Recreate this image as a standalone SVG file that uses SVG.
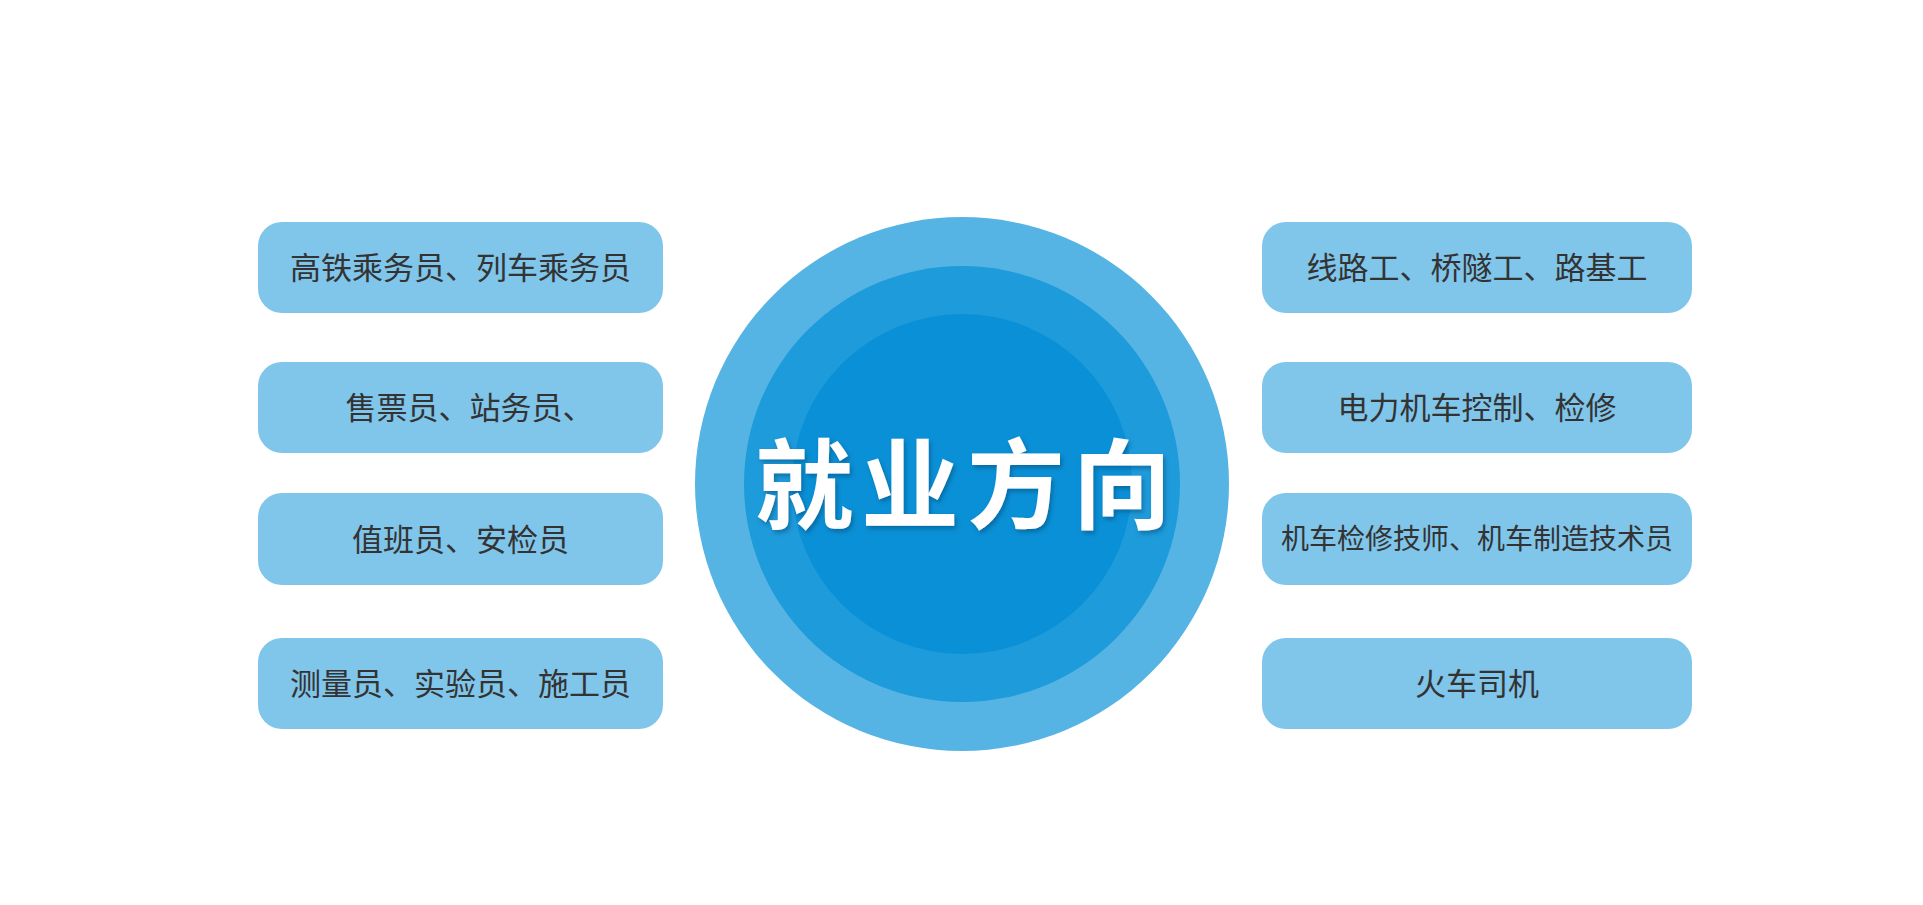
<svg xmlns="http://www.w3.org/2000/svg" width="1923" height="905" viewBox="0 0 1923 905">
<defs>
<style>
.box{fill:#80C5EA;}
.lbl{font-family:"Noto Sans CJK SC","Noto Sans",sans-serif;font-size:31px;fill:#333333;text-anchor:middle;}
.small{font-size:28px;}
.title{font-family:"Noto Sans CJK SC","Noto Sans",sans-serif;font-size:98px;font-weight:700;fill:#ffffff;letter-spacing:8px;}
</style>
<filter id="sh" x="-10%" y="-20%" width="120%" height="140%">
<feDropShadow dx="2" dy="3" stdDeviation="2" flood-color="#00406a" flood-opacity="0.45"/>
</filter>
</defs>
<rect width="1923" height="905" fill="#ffffff"/>
<g id="connectors"></g>
<g id="center">
<circle cx="962" cy="484" r="267" fill="#55B4E4"/>
<circle cx="962" cy="484" r="218" fill="#1E9BDB"/>
<circle cx="962" cy="484" r="170" fill="#0A90D6"/>
<text class="title" x="755" y="521" filter="url(#sh)">就业方向</text>
</g>
<g id="n1"><rect class="box" x="258" y="222" width="405" height="91" rx="24"/><text class="lbl" x="460.5" y="279">高铁乘务员、列车乘务员</text></g>
<g id="n2"><rect class="box" x="258" y="362" width="405" height="91" rx="24"/><text class="lbl" x="469.5" y="419">售票员、站务员、</text></g>
<g id="n3"><rect class="box" x="258" y="493" width="405" height="92" rx="24"/><text class="lbl" x="460.5" y="551">值班员、安检员</text></g>
<g id="n4"><rect class="box" x="258" y="638" width="405" height="91" rx="24"/><text class="lbl" x="460.5" y="695">测量员、实验员、施工员</text></g>
<g id="n5"><rect class="box" x="1262" y="222" width="430" height="91" rx="24"/><text class="lbl" x="1477" y="279">线路工、桥隧工、路基工</text></g>
<g id="n6"><rect class="box" x="1262" y="362" width="430" height="91" rx="24"/><text class="lbl" x="1477" y="419">电力机车控制、检修</text></g>
<g id="n7"><rect class="box" x="1262" y="493" width="430" height="92" rx="24"/><text class="lbl small" x="1477" y="549">机车检修技师、机车制造技术员</text></g>
<g id="n8"><rect class="box" x="1262" y="638" width="430" height="91" rx="24"/><text class="lbl" x="1477" y="695">火车司机</text></g>
</svg>
